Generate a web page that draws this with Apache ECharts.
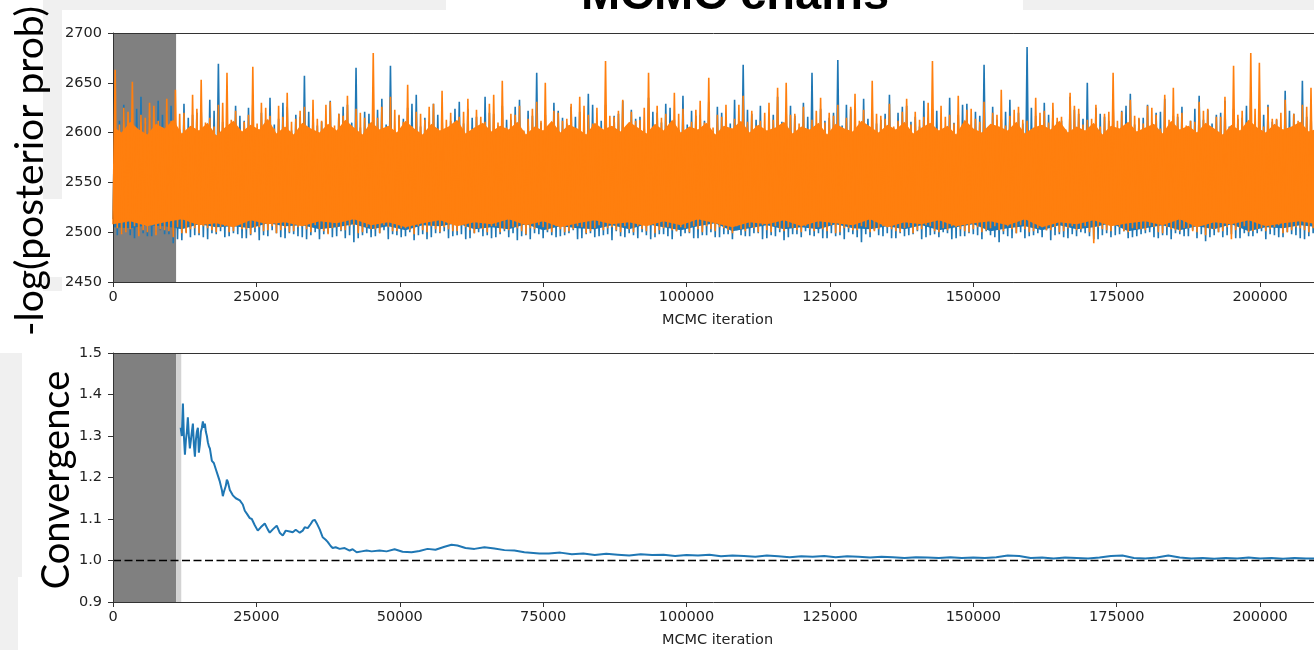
<!DOCTYPE html>
<html><head><meta charset="utf-8">
<script src="https://cdn.jsdelivr.net/npm/echarts@6/dist/echarts.min.js"></script>
<style>html,body{margin:0;padding:0;background:#fff}#c{width:1314px;height:650px}</style>
</head><body><div id="c"></div>
<script>
// ---------- data ----------
const binWidth = 1500;          // iterations per bin of the chain envelopes
const burnIn = 11000;
const burnInEdge = 11900;
const xMax = 209400;            // visible end of the (cropped) x axis
const refLevel = 1.0;

// first sample pair per bin (extremes)
const orangeHi = [2663,2625,2651,2618,2630,2612,2634,2643,2620,2638,
2653,2615,2628,2660,2622,2611,2666,2630,2617,2627,
2640,2614,2626,2633,2612,2631,2619,2637,2624,2615,
2680,2626,2636,2618,2648,2621,2613,2629,2642,2620,
2616,2634,2623,2611,2638,2652,2619,2627,2614,2631,
2650,2622,2612,2629,2636,2618,2625,2672,2616,2633,
2621,2613,2660,2627,2619,2640,2624,2611,2632,2655,
2618,2628,2614,2637,2622,2612,2630,2645,2650,2619,
2626,2613,2635,2620,2628,2615,2639,2623,2652,2617,
2629,2612,2634,2621,2616,2672,2627,2618,2637,2623,
2614,2631,2620,2643,2617,2626,2612,2635,2622,2630,
2616,2640,2624,2613,2628,2619,2660,2621,2633,2615,
2627,2618,2638,2645,2620,2612,2631,2624,2616,2636,
2667,2622,2680,2670,2626,2614,2633,2619,2628,2645];

const orangeLo = [2508,2498,2503,2496,2500,2497,2502,2495,2499,2503,
2499,2504,2500,2506,2501,2503,2498,2505,2502,2499,
2504,2501,2506,2500,2503,2498,2505,2502,2507,2500,
2503,2499,2505,2501,2504,2498,2502,2506,2500,2503,
2501,2505,2499,2503,2506,2500,2502,2504,2498,2503,
2505,2500,2503,2501,2506,2499,2504,2502,2505,2500,
2503,2506,2501,2499,2504,2502,2505,2500,2503,2506,
2501,2504,2499,2503,2505,2500,2502,2506,2501,2504,
2500,2503,2505,2501,2499,2504,2502,2506,2500,2503,
2505,2501,2504,2499,2503,2506,2500,2502,2505,2501,
2503,2500,2504,2502,2506,2499,2503,2501,2505,2502,
2500,2504,2502,2506,2489,2503,2501,2505,2500,2503,
2502,2505,2499,2503,2501,2504,2500,2497,2503,2501,
2493,2504,2500,2503,2501,2505,2499,2502,2504,2500];

// second sample pair per bin (typical excursions)
const orangeHi2 = [2608,2621,2603,2615,2627,2605,2612,2619,2601,2624,
2610,2606,2630,2613,2602,2618,2609,2625,2604,2616,
2611,2622,2600,2614,2628,2607,2617,2603,2620,2609,
2615,2601,2623,2611,2606,2619,2626,2604,2613,2608,
2621,2603,2616,2629,2610,2605,2618,2602,2624,2612,
2607,2620,2614,2601,2627,2609,2604,2617,2622,2606,
2612,2625,2603,2615,2608,2619,2601,2623,2610,2605,
2616,2602,2628,2611,2607,2620,2613,2604,2618,2609,
2603,2622,2610,2617,2605,2626,2612,2601,2619,2614,
2606,2621,2608,2613,2630,2604,2616,2609,2602,2624,
2611,2605,2618,2607,2623,2613,2601,2620,2610,2615,
2603,2627,2608,2614,2606,2621,2612,2602,2617,2609,
2625,2604,2613,2619,2607,2611,2622,2605,2616,2603,
2618,2610,2624,2606,2614,2620,2602,2612,2626,2608];

const orangeLo2 = [2504,2500,2506,2502,2507,2503,2501,2505,2499,2504,
2506,2502,2505,2500,2507,2503,2504,2501,2506,2502,
2500,2505,2503,2507,2501,2504,2502,2506,2499,2505,
2503,2507,2501,2504,2502,2506,2500,2503,2505,2501,
2507,2502,2504,2500,2506,2503,2505,2501,2504,2507,
2502,2506,2500,2503,2505,2501,2507,2504,2502,2506,
2500,2503,2507,2502,2505,2501,2504,2506,2500,2503,
2505,2502,2506,2501,2504,2507,2500,2503,2505,2502,
2506,2501,2503,2507,2500,2504,2502,2505,2501,2506,
2503,2500,2505,2502,2507,2501,2504,2506,2503,2500,
2505,2502,2506,2501,2503,2507,2500,2504,2502,2505,
2501,2506,2503,2500,2505,2502,2507,2501,2504,2503,
2506,2500,2505,2502,2504,2501,2507,2503,2500,2505,
2502,2506,2501,2504,2503,2507,2500,2505,2502,2504];

const blueHi = [2640,2628,2620,2636,2615,2632,2622,2610,2629,2618,
2624,2633,2669,2616,2627,2612,2630,2620,2635,2614,
2626,2618,2657,2623,2611,2632,2619,2628,2665,2621,
2613,2634,2667,2617,2625,2638,2615,2629,2620,2612,
2631,2624,2616,2636,2619,2627,2613,2633,2622,2660,
2618,2630,2615,2626,2621,2639,2612,2628,2617,2632,
2623,2616,2635,2620,2629,2613,2637,2622,2618,2631,
2626,2614,2633,2668,2619,2627,2612,2636,2621,2617,
2630,2660,2624,2615,2673,2628,2619,2634,2622,2613,
2638,2620,2627,2616,2632,2624,2611,2635,2618,2629,
2621,2668,2626,2614,2633,2620,2686,2617,2630,2623,
2612,2636,2619,2650,2625,2616,2631,2622,2639,2614,
2628,2620,2634,2617,2626,2612,2637,2623,2618,2632,
2624,2615,2635,2621,2628,2613,2642,2619,2652,2627];

const blueLo = [2513,2499,2497,2501,2496,2500,2498,2489,2492,2495,
2497,2493,2498,2495,2499,2494,2497,2492,2496,2499,
2494,2498,2495,2497,2493,2499,2496,2494,2490,2497,
2495,2499,2493,2497,2496,2492,2498,2495,2499,2494,
2497,2493,2499,2496,2494,2498,2495,2492,2497,2499,
2494,2497,2496,2499,2493,2498,2495,2497,2492,2496,
2499,2494,2497,2495,2498,2493,2496,2499,2494,2497,
2495,2498,2493,2497,2496,2499,2494,2496,2492,2498,
2495,2497,2499,2494,2496,2493,2498,2490,2495,2497,
2499,2494,2496,2498,2493,2497,2495,2499,2494,2496,
2498,2493,2497,2490,2496,2499,2494,2497,2495,2492,
2498,2494,2496,2499,2493,2497,2495,2498,2494,2496,
2499,2495,2497,2493,2498,2496,2494,2491,2497,2495,
2498,2494,2496,2499,2493,2497,2495,2498,2494,2496];

const blueHi2 = [2612,2605,2624,2609,2601,2618,2627,2603,2615,2620,
2606,2622,2611,2600,2617,2625,2604,2613,2608,2630,
2602,2616,2621,2607,2612,2603,2626,2610,2605,2619,
2623,2608,2600,2614,2629,2606,2611,2618,2602,2624,
2609,2615,2604,2620,2607,2613,2626,2601,2617,2610,
2603,2622,2609,2616,2605,2628,2612,2600,2619,2607,
2614,2604,2621,2610,2625,2603,2608,2617,2612,2601,
2620,2609,2606,2623,2613,2602,2618,2611,2627,2605,
2616,2603,2612,2620,2607,2624,2601,2614,2609,2619,
2604,2626,2611,2606,2615,2622,2603,2610,2628,2608,
2617,2602,2613,2621,2606,2609,2625,2604,2618,2611,
2600,2623,2614,2607,2619,2612,2603,2627,2608,2615,
2610,2621,2605,2616,2602,2624,2613,2609,2620,2606,
2614,2627,2603,2618,2611,2605,2622,2609,2616,2612];

const blueLo2 = [2497,2501,2494,2499,2496,2502,2498,2493,2500,2497,
2495,2499,2501,2496,2498,2494,2500,2497,2502,2495,
2499,2496,2493,2500,2498,2495,2501,2497,2494,2499,
2496,2502,2498,2495,2500,2497,2493,2499,2501,2496,
2498,2494,2500,2497,2495,2501,2499,2496,2493,2498,
2500,2495,2497,2502,2494,2499,2496,2498,2501,2495,
2497,2500,2493,2498,2496,2501,2499,2494,2497,2500,
2495,2498,2502,2496,2499,2493,2497,2500,2495,2498,
2501,2496,2494,2499,2497,2500,2495,2498,2502,2496,
2494,2499,2497,2501,2495,2498,2500,2493,2496,2499,
2497,2501,2495,2498,2494,2500,2496,2499,2502,2497,
2495,2498,2500,2496,2493,2499,2497,2501,2495,2498,
2500,2494,2497,2499,2496,2502,2498,2495,2500,2497,
2494,2499,2496,2501,2498,2495,2500,2497,2493,2499];

// edges of the solid (dense) part of each chain
const orangeCoreTopStep = 1500;
const orangeCoreTop = [2606,2600,2611,2603,2598,2609,2604,2613,2599,2607,
2602,2610,2597,2605,2612,2601,2608,2603,2614,2599,
2606,2598,2610,2604,2600,2609,2602,2613,2605,2598,
2611,2603,2607,2600,2612,2604,2598,2609,2602,2606,
2613,2599,2605,2610,2601,2607,2603,2611,2598,2606,
2602,2612,2600,2608,2604,2598,2610,2603,2607,2601,
2611,2605,2599,2609,2602,2613,2600,2606,2603,2610,
2598,2607,2604,2612,2600,2608,2602,2605,2611,2599,
2606,2603,2610,2598,2609,2604,2601,2612,2606,2600,
2608,2603,2611,2599,2605,2610,2602,2607,2598,2613,
2604,2600,2609,2606,2602,2611,2599,2605,2608,2603,
2612,2600,2606,2602,2610,2598,2607,2604,2611,2601,
2605,2609,2599,2612,2603,2607,2600,2610,2604,2598,
2608,2602,2613,2605,2600,2609,2603,2606,2611,2601,2604];
const orangeCoreBottomStep = 3000;
const orangeCoreBottom = [2508,2511,2506,2510,2513,2507,2509,2505,2512,2508,
2510,2506,2511,2509,2513,2507,2510,2505,2509,2512,
2506,2510,2508,2513,2507,2511,2505,2509,2512,2508,
2510,2506,2511,2507,2513,2509,2505,2510,2508,2512,
2506,2511,2509,2507,2513,2505,2510,2508,2512,2506,
2509,2511,2507,2513,2505,2510,2508,2512,2506,2509,
2511,2507,2513,2505,2510,2508,2512,2506,2509,2511,2508];
const blueCoreTopStep = 15000;
const blueCoreTop = [2596,2597,2596,2597,2596,2597,2596,2597,2596,2597,2596,2597,2596,2597,2596];
const blueCoreBottomStep = 3000;
const blueCoreBottom = [2505,2504,2507,2506,2503,2508,2505,2506,2504,2509,
2506,2507,2503,2505,2508,2503,2506,2502,2507,2506,
2509,2503,2505,2503,2508,2502,2506,2504,2503,2507,
2503,2508,2505,2502,2506,2509,2501,2504,2507,2503,
2505,2503,2508,2504,2503,2506,2503,2507,2502,2505,
2508,2501,2504,2506,2502,2507,2503,2505,2509,2501,
2504,2507,2502,2506,2503,2508,2501,2505,2504,2507,2505];

const convergence = [[11800,1.32],[12000,1.30],[12190,1.378],[12360,1.30],[12540,1.255],[12710,1.29],[12880,1.31],[13050,1.345],[13230,1.30],[13400,1.27],[13580,1.29],[13750,1.31],[13930,1.33],[14100,1.28],[14280,1.25],[14450,1.29],[14620,1.31],[14800,1.32],[14970,1.26],[15150,1.28],[15320,1.31],[15500,1.32],[15670,1.335],[15840,1.32],[16020,1.33],[16190,1.31],[16370,1.30],[16540,1.285],[16720,1.275],[16890,1.27],[17240,1.24],[17580,1.235],[17930,1.22],[18280,1.205],[18630,1.19],[18980,1.17],[19150,1.155],[19330,1.165],[19670,1.18],[19850,1.195],[20020,1.19],[20370,1.17],[20890,1.157],[21410,1.15],[22110,1.145],[22630,1.135],[22980,1.12],[23330,1.113],[23850,1.102],[24200,1.10],[24720,1.085],[25240,1.072],[25760,1.08],[26460,1.089],[26980,1.075],[27330,1.067],[27860,1.075],[28550,1.084],[29070,1.067],[29600,1.06],[30120,1.072],[30820,1.07],[31340,1.068],[31860,1.074],[32560,1.067],[33080,1.072],[33430,1.08],[33950,1.078],[34470,1.088],[34820,1.096],[35170,1.098],[35510,1.09],[36040,1.075],[36560,1.056],[37080,1.05],[37430,1.045],[37950,1.035],[38300,1.03],[38820,1.032],[39520,1.028],[40390,1.03],[41260,1.024],[41780,1.027],[42480,1.02],[43350,1.022],[44220,1.024],[45090,1.022],[46480,1.024],[47700,1.022],[49100,1.027],[50490,1.021],[52060,1.02],[53450,1.023],[54840,1.028],[56230,1.026],[57800,1.033],[59020,1.038],[60060,1.036],[61460,1.03],[63020,1.028],[64760,1.032],[66500,1.029],[68250,1.025],[69990,1.024],[71730,1.02],[74340,1.017],
[76000,1.017],[78000,1.019],[80000,1.015],[82000,1.017],[84000,1.013],[86000,1.016],[88000,1.014],[90000,1.012],[92000,1.015],[94000,1.013],[96000,1.014],[98000,1.011],[100000,1.013],[102000,1.012],[104000,1.014],[106000,1.01],[108000,1.012],[110000,1.011],[112000,1.009],[114000,1.012],[116000,1.01],[118000,1.008],[120000,1.01],[122000,1.009],[124000,1.011],[126000,1.008],[128000,1.01],[130000,1.009],[132000,1.007],[134000,1.009],[136000,1.008],[138000,1.006],[140000,1.008],[142000,1.007],[144000,1.006],[146000,1.008],[148000,1.006],[150000,1.007],[152000,1.006],[154000,1.008],[156000,1.012],[158000,1.011],[160000,1.006],[162000,1.007],[164000,1.005],[166000,1.007],[168000,1.006],[170000,1.005],[172000,1.007],[174000,1.011],[176000,1.012],[178000,1.006],[180000,1.005],[182000,1.007],[184000,1.012],[186000,1.007],[188000,1.005],[190000,1.006],[192000,1.004],[194000,1.006],[196000,1.005],[198000,1.007],[200000,1.005],[202000,1.006],[204000,1.004],[206000,1.006],[208000,1.005],[210000,1.005]];

const xTickInterval = 25000;
const topYTicks = {min:2450, max:2700, interval:50};
const botYTicks = {min:0.9, max:1.5, interval:0.1};

// ---------- build ----------
const BLUE = '#1f77b4', ORANGE = '#ff7f0e';
function zigzag(lo, hi, lo2, hi2){
  const out = [];
  const q = binWidth / 4;
  for (let i = 0; i < lo.length; i++){
    const x = i * binWidth;
    out.push([x, lo[i]]);
    out.push([x + q, hi[i]]);
    out.push([x + 2*q, lo2[i]]);
    out.push([x + 3*q, hi2[i]]);
  }
  return out;
}
function coreSeries(top, topStep, bottom, bottomStep, color, z){
  return {
    type:'custom', xAxisIndex:0, yAxisIndex:0, z, silent:true, clip:true,
    data: top.map((v,i)=>[i*topStep, v]),
    encode:{x:0, y:1},
    renderItem:(params, api)=>{
      if (params.dataIndex !== 0) return null;
      const pts = [];
      for (let i = 0; i < top.length; i++) pts.push(api.coord([i*topStep, top[i]]));
      for (let i = bottom.length-1; i >= 0; i--) pts.push(api.coord([i*bottomStep, bottom[i]]));
      return {type:'polygon', shape:{points:pts}, style:{fill:color}};
    }
  };
}

const tickFont = {fontFamily:'DejaVu Sans', fontSize:14.5, color:'#222'};
function bottomX(gridIndex){
  return {gridIndex, type:'value', min:0, max:xMax, interval:xTickInterval, z:5,
    axisLine:{show:true, onZero:false, lineStyle:{color:'#333', width:1}},
    axisTick:{show:true, length:5, lineStyle:{color:'#333', width:1}},
    axisLabel:Object.assign({margin:8, showMaxLabel:false, formatter:v=>String(Math.round(v))}, tickFont),
    splitLine:{show:false},
    name:'MCMC iteration', nameLocation:'middle', nameGap:31,
    nameTextStyle:{fontFamily:'DejaVu Sans', fontSize:14.5, color:'#222', padding:[0,0,0,8]}};
}
function topX(gridIndex){
  return {gridIndex, type:'value', position:'top', min:0, max:xMax, z:5,
    axisLine:{show:true, onZero:false, lineStyle:{color:'#333', width:1}},
    axisTick:{show:false}, axisLabel:{show:false}, splitLine:{show:false}};
}
function leftY(gridIndex, t, fmt){
  return {gridIndex, type:'value', min:t.min, max:t.max, interval:t.interval, z:5,
    axisLine:{show:true, onZero:false, lineStyle:{color:'#333', width:1}},
    axisTick:{show:true, length:5, lineStyle:{color:'#333', width:1}},
    axisLabel:Object.assign({margin:11, formatter:fmt}, tickFont),
    splitLine:{show:false}};
}

const chart = echarts.init(document.getElementById('c'), null, {renderer:'canvas'});
chart.setOption({
  animation:false,
  backgroundColor:'#ffffff',
  grid:[
    {left:113, top:33, right:0, height:249},
    {left:113, top:353, right:0, height:249}
  ],
  xAxis:[bottomX(0), topX(0), bottomX(1), topX(1)],
  yAxis:[
    leftY(0, topYTicks, v=>String(Math.round(v))),
    leftY(1, botYTicks, v=>v.toFixed(1))
  ],
  graphic:[
    {type:'rect', z:0, shape:{x:43,y:0,width:403,height:10}, style:{fill:'#f0f0f0'}},
    {type:'rect', z:0, shape:{x:1023,y:0,width:291,height:10}, style:{fill:'#f0f0f0'}},
    {type:'rect', z:0, shape:{x:43,y:10,width:19,height:189}, style:{fill:'#f0f0f0'}},
    {type:'rect', z:0, shape:{x:43,y:277,width:19,height:14}, style:{fill:'#f0f0f0'}},
    {type:'rect', z:0, shape:{x:0,y:353,width:22,height:224}, style:{fill:'#f0f0f0'}},
    {type:'rect', z:0, shape:{x:0,y:577,width:18,height:73}, style:{fill:'#f0f0f0'}},
    {type:'text', z:10, x:735, y:-4, style:{text:'MCMC chains', font:'bold 47px "Liberation Sans"', fill:'#000', align:'center', verticalAlign:'middle'}},
    {type:'text', z:10, x:30, y:171, rotation:Math.PI/2, style:{text:'-log(posterior prob)', font:'39px Lato', fill:'#000', align:'center', verticalAlign:'middle'}},
    {type:'text', z:10, x:57, y:480, rotation:Math.PI/2, style:{text:'Convergence', font:'38px Lato', fill:'#000', align:'center', verticalAlign:'middle'}}
  ],
  series:[
    {type:'line', xAxisIndex:0, yAxisIndex:0, z:1, data:[[0,2450]], showSymbol:false, lineStyle:{width:0},
      markArea:{silent:true, itemStyle:{color:'#808080', opacity:1}, data:[[{xAxis:0},{xAxis:burnIn}]]}},
    // blue chain
    coreSeries(blueCoreTop, blueCoreTopStep, blueCoreBottom, blueCoreBottomStep, BLUE, 2),
    {type:'line', xAxisIndex:0, yAxisIndex:0, z:3, data:zigzag(blueLo, blueHi, blueLo2, blueHi2), showSymbol:false, lineStyle:{color:BLUE, width:1.6}, silent:true},
    // orange chain
    coreSeries(orangeCoreTop, orangeCoreTopStep, orangeCoreBottom, orangeCoreBottomStep, ORANGE, 4),
    {type:'line', xAxisIndex:0, yAxisIndex:0, z:5, data:zigzag(orangeLo, orangeHi, orangeLo2, orangeHi2), showSymbol:false, lineStyle:{color:ORANGE, width:1.6}, silent:true},
    // convergence
    {type:'line', xAxisIndex:2, yAxisIndex:1, z:1, data:[[0,0.9]], showSymbol:false, lineStyle:{width:0},
      markArea:{silent:true, data:[
        [{xAxis:0, itemStyle:{color:'#808080', opacity:1}},{xAxis:burnIn}],
        [{xAxis:burnIn, itemStyle:{color:'#d3d3d3', opacity:1}},{xAxis:burnInEdge}]
      ]}},
    {type:'line', xAxisIndex:2, yAxisIndex:1, z:3, data:convergence, showSymbol:false, lineStyle:{color:BLUE, width:2}, silent:true},
    {type:'line', xAxisIndex:2, yAxisIndex:1, z:4, data:[[0,refLevel],[xMax,refLevel]], showSymbol:false, lineStyle:{color:'#000', width:1.5, type:[8,3.5]}, silent:true}
  ]
});
</script></body></html>
